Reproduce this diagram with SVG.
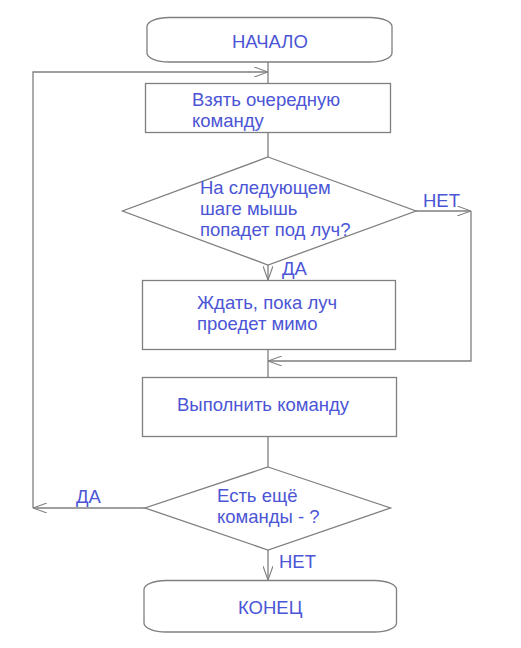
<svg xmlns="http://www.w3.org/2000/svg" width="521" height="648" viewBox="0 0 521 648">
<defs>
<style>
.s{fill:#fff;stroke:#7f7f7f;stroke-width:1.3}
.c{fill:none;stroke:#7f7f7f;stroke-width:1.3}
text{font-family:"Liberation Sans",Arial,sans-serif;font-size:18.5px;fill:#4b55d6}
</style>
<marker id="a" viewBox="0 0 14 10" refX="14" refY="5" markerWidth="14" markerHeight="10" markerUnits="userSpaceOnUse" orient="auto">
<path d="M0,0 L14,5 L0,10" fill="none" stroke="#7f7f7f" stroke-width="1.1"/>
</marker>
</defs>
<rect width="521" height="648" fill="#fff"/>
<g id="connectors">
<path class="c" d="M268,62 V83"/>
<path class="c" d="M145,508 H33" marker-end="url(#a)"/>
<path class="c" d="M33,508 V72 H268" marker-end="url(#a)"/>
<path class="c" d="M268,132 V157"/>
<path class="c" d="M416,211 H471" marker-end="url(#a)"/>
<path class="c" d="M471,211 V361 H268" marker-end="url(#a)"/>
<path class="c" d="M268,265 V280" marker-end="url(#a)"/>
<path class="c" d="M268,349 V377"/>
<path class="c" d="M268,436 V467"/>
<path class="c" d="M268,550 V580" marker-end="url(#a)"/>
</g>
<g id="start">
<rect class="s" x="147" y="17.5" width="245" height="44.5" rx="22" ry="9"/>
<text x="232" y="48">НАЧАЛО</text>
</g>
<g id="take">
<rect class="s" x="145.5" y="83.5" width="245" height="49"/>
<text x="192" y="106">Взять очередную</text>
<text x="192" y="127">команду</text>
</g>
<g id="check">
<polygon class="s" points="268,157 416,211 268,265 122.5,211"/>
<text x="200" y="194">На следующем</text>
<text x="200" y="215">шаге мышь</text>
<text x="200" y="236">попадет под луч?</text>
</g>
<g id="wait">
<rect class="s" x="142.5" y="280.5" width="253" height="69"/>
<text x="197" y="309">Ждать, пока луч</text>
<text x="197" y="330">проедет мимо</text>
</g>
<g id="exec">
<rect class="s" x="142.5" y="377.5" width="254" height="59"/>
<text x="177" y="411">Выполнить команду</text>
</g>
<g id="more">
<polygon class="s" points="268,467 390.5,508 268,550 145,508"/>
<text x="217" y="502">Есть ещё</text>
<text x="217" y="523">команды - ?</text>
</g>
<g id="end">
<rect class="s" x="144" y="580.5" width="252.5" height="51.5" rx="22" ry="9"/>
<text x="238" y="614">КОНЕЦ</text>
</g>
<g id="labels">
<text x="423" y="207">НЕТ</text>
<text x="282" y="275">ДА</text>
<text x="76" y="503">ДА</text>
<text x="279" y="568">НЕТ</text>
</g>
</svg>
